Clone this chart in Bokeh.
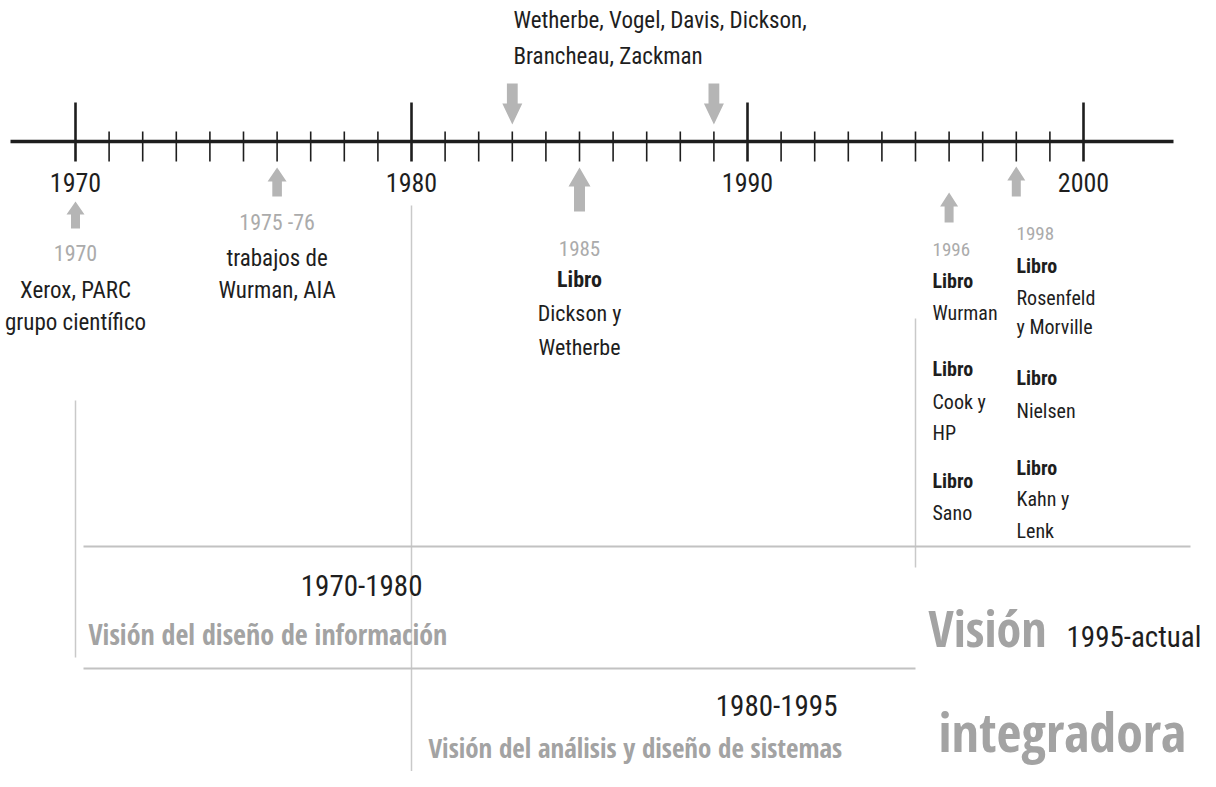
from bokeh.plotting import figure
from bokeh.models import Range1d
from bokeh.core.properties import value
from bokeh.embed import file_html
from bokeh.resources import INLINE

# ---------------- data ----------------
decade_years = [1970, 1980, 1990, 2000]
decade_labels = ["1970", "1980", "1990", "2000"]
minor_years = [1971, 1972, 1973, 1974, 1975, 1976, 1977, 1978, 1979,
               1981, 1982, 1983, 1984, 1985, 1986, 1987, 1988, 1989,
               1991, 1992, 1993, 1994, 1995, 1996, 1997, 1998, 1999]
up_arrow_years = [1970, 1976, 1985, 1996, 1998]
down_arrow_years = [1983, 1989]

top_note = ["Wetherbe, Vogel, Davis, Dickson,", "Brancheau, Zackman"]
event_1970 = ["1970", "Xerox, PARC", "grupo científico"]
event_1976 = ["1975 -76", "trabajos de", "Wurman, AIA"]
event_1985 = ["1985", "Libro", "Dickson y", "Wetherbe"]
event_1996 = ["1996", "Libro", "Wurman", "Libro", "Cook y", "HP", "Libro", "Sano"]
event_1998 = ["1998", "Libro", "Rosenfeld", "y Morville", "Libro", "Nielsen",
              "Libro", "Kahn y", "Lenk"]

period_ranges = ["1970-1980", "1980-1995", "1995-actual"]
period_names = ["Visión del diseño de información",
                "Visión del análisis y diseño de sistemas",
                "Visión", "integradora"]
period_bounds = [1970, 1980, 1995]

# ---------------- layout helpers ----------------
W, H = 1200, 771
PX = 33.6                      # pixels per year
X0 = 1970 - 75 / PX            # year at the left edge of the figure


def yr(px):
    """figure x pixel -> year coordinate"""
    return X0 + px / PX


COND = "Roboto Condensed"
HEAVY = "Open Sans Condensed"
BLACK = "#1e1e1e"
GREY_TXT = "#ababab"
GREY_BIG = "#a3a3a3"
ARROW = "#b5b5b5"
RULE = "#c9c9c9"
BASE_SHIFT = 0.45              # renderer draws the alphabetic baseline ~0.45em low

p = figure(width=W, height=H, output_backend="svg", toolbar_location=None,
           x_range=Range1d(X0, X0 + W / PX), y_range=Range1d(H, 0),
           min_border=0, background_fill_color="white",
           border_fill_color="white")
p.axis.visible = False
p.grid.visible = False
p.outline_line_color = None


def txt(xs, ys, texts, size, color=BLACK, style="normal", align="left",
        font=COND):
    ys = [y - BASE_SHIFT * size for y in ys]
    p.text(x=xs, y=ys, text=texts, text_font=value(font),
           text_font_size=f"{size}px", text_color=color,
           text_font_style=style, text_align=align,
           text_baseline="alphabetic")


def styled_column(x, baselines, lines, size, align):
    for t, b in zip(lines, baselines):
        if t[:2] == "19":
            txt([x], [b], [t], size - 1, color=GREY_TXT, align=align)
        elif t == "Libro":
            txt([x], [b], [t], size, style="bold", align=align)
        else:
            txt([x], [b], [t], size, align=align)


# ---------------- guide rules ----------------
p.segment(x0=period_bounds, x1=period_bounds,
          y0=[400, 205, 318], y1=[657, 771, 567],
          line_color=RULE, line_width=1.5)
p.segment(x0=[yr(83), yr(83)], x1=[yr(1190), period_bounds[2]],
          y0=[546, 668], y1=[546, 668], line_color="#c2c2c2", line_width=2)

# ---------------- time axis ----------------
p.segment(x0=[yr(10)], x1=[yr(1173)], y0=[141], y1=[141],
          line_color=BLACK, line_width=3.5)
p.segment(x0=decade_years, x1=decade_years, y0=[102] * 4, y1=[161] * 4,
          line_color=BLACK, line_width=2.6)
p.segment(x0=minor_years, x1=minor_years, y0=[131] * len(minor_years),
          y1=[161] * len(minor_years), line_color=BLACK, line_width=1.6)
txt(decade_years, [194] * 4, decade_labels, 26, align="center")


# ---------------- arrows ----------------
def arrow(x, tip, tail, hl, hw, sw):
    d = 1 if tail > tip else -1
    neck = tip + d * hl
    xs = [x - sw / PX, x - sw / PX, x - hw / PX, x, x + hw / PX,
          x + sw / PX, x + sw / PX]
    ys = [tail, neck, neck, tip, neck, neck, tail]
    return xs, ys


up_geom = [(201, 228, 13, 9, 4.5), (167, 196, 14, 9.5, 4.8),
           (167, 211, 19, 11, 5.5), (192, 222, 14, 9, 4.5),
           (166, 196, 14, 9, 4.5)]
down_geom = [(124, 83, 21, 10, 5.4), (124, 83, 21, 10, 5.4)]
axs, ays = [], []
for x, g in zip(up_arrow_years + down_arrow_years, up_geom + down_geom):
    a, b = arrow(x, *g)
    axs.append(a)
    ays.append(b)
p.patches(xs=axs, ys=ays, fill_color=ARROW, line_color=None)

# ---------------- event texts ----------------
txt([yr(513)] * 2, [30, 66], top_note, 23)
styled_column(1970, [262, 300, 332], event_1970, 23, "center")
styled_column(1976, [232, 268, 300], event_1976, 23, "center")
styled_column(1985, [257, 289, 323, 357], event_1985, 22, "center")
styled_column(yr(932), [258, 289, 321, 377, 410, 441, 489, 521],
              event_1996, 20, "left")
styled_column(yr(1016), [242, 274, 306, 335, 386, 419, 476, 507, 539],
              event_1998, 20, "left")

# ---------------- periods ----------------
txt([yr(422)], [598], [period_ranges[0]], 29, align="right")
txt([yr(88)], [646], [period_names[0]], 28, color=GREY_BIG, style="bold",
    font=HEAVY)
txt([yr(837)], [718], [period_ranges[1]], 29, align="right")
txt([yr(428)], [759], [period_names[1]], 27, color=GREY_BIG, style="bold",
    font=HEAVY)
txt([yr(928)], [650], [period_names[2]], 50, color=GREY_BIG, style="bold",
    font=HEAVY)
txt([yr(1066)], [650], [period_ranges[2]], 29)
txt([yr(938)], [755], [period_names[3]], 54, color=GREY_BIG, style="bold",
    font=HEAVY)

open("out.html", "w").write(file_html(p, INLINE))
